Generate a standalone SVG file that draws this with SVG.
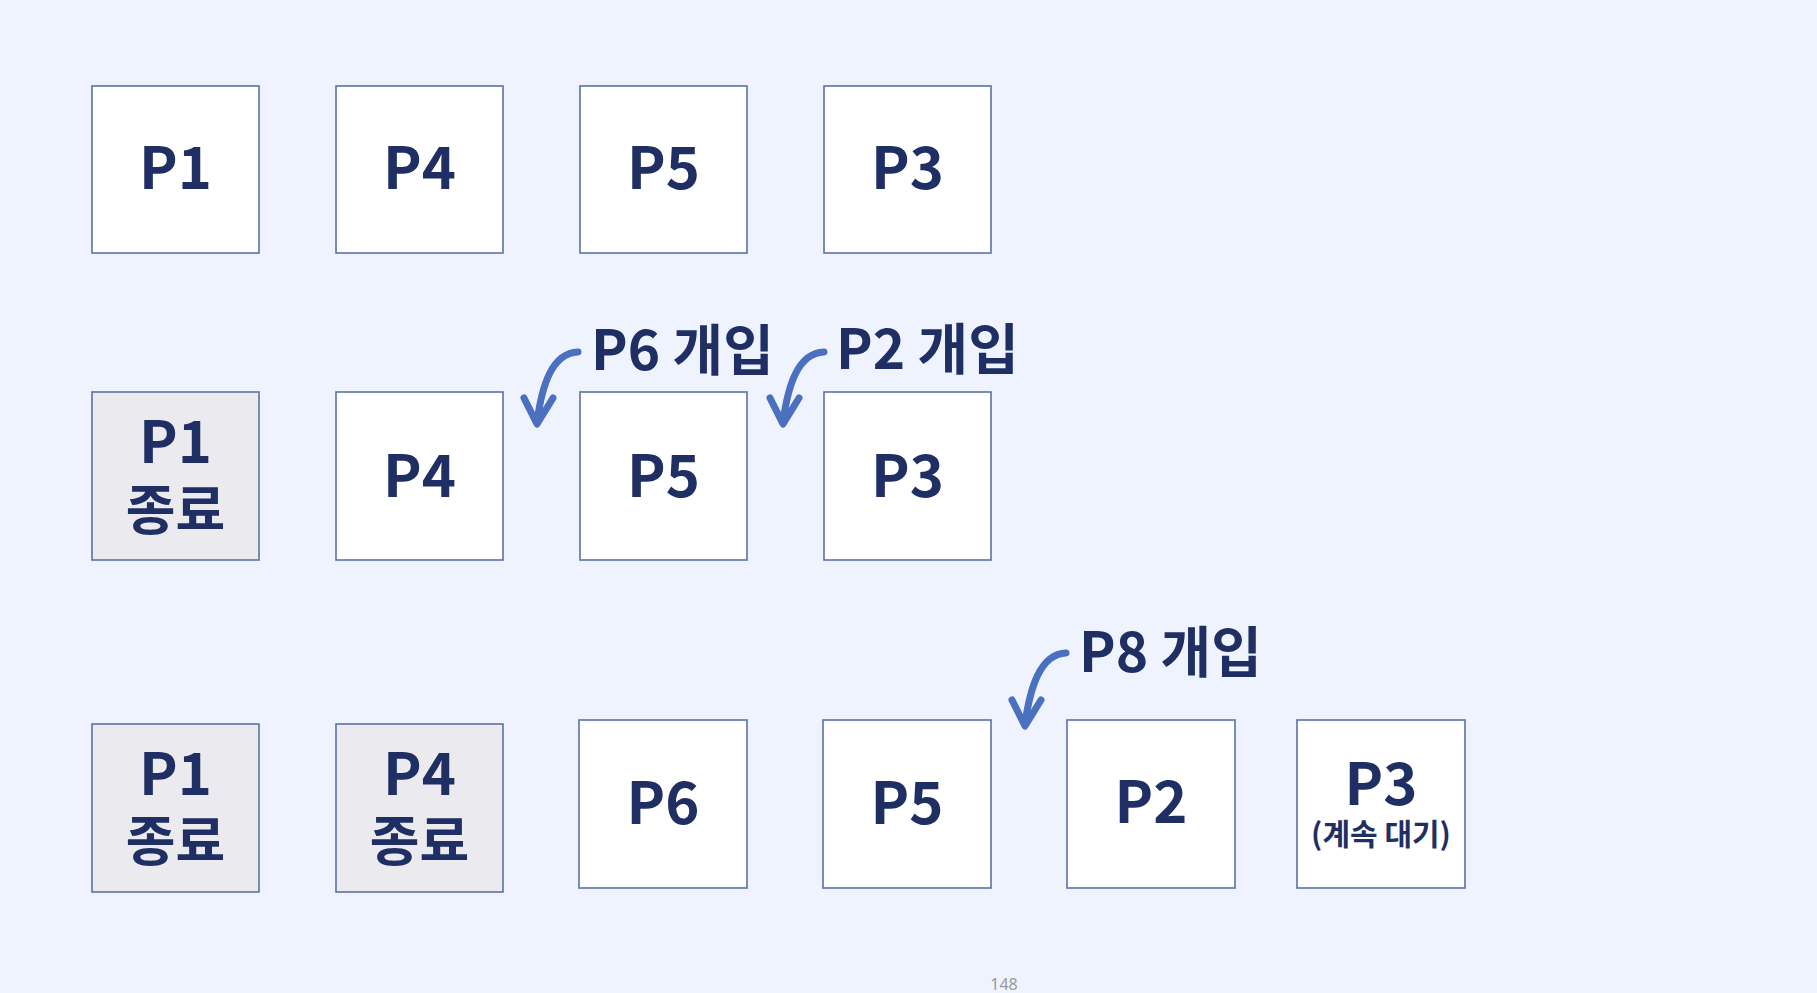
<svg xmlns="http://www.w3.org/2000/svg" width="1817" height="993" viewBox="0 0 1817 993">
<style>
.bg{fill:#eef3fe}
.box{fill:#ffffff;stroke:#5a72a6;stroke-width:1.6}
.done{fill:#ebebef;stroke:#5a72a6;stroke-width:1.6}
.t{font-family:"Noto Sans CJK KR","Noto Sans",sans-serif;font-weight:700;fill:#1f2f63;text-anchor:middle}
.big{font-size:58px}
.mid{font-size:54px}
.small{font-size:30px}
.lbl{font-family:"Noto Sans CJK KR","Noto Sans",sans-serif;font-weight:700;fill:#1f2f63;font-size:55px}
.arr{fill:none;stroke:#4b70c0;stroke-width:7;stroke-linecap:round;stroke-linejoin:round}
.pg{font-family:"Noto Sans","Liberation Sans",sans-serif;font-size:16px;fill:#9a9a9a;text-anchor:middle}
</style>
<rect class="bg" x="0" y="0" width="1817" height="993"/>

<g id="r1-p1"><rect class="box" x="92" y="86" width="167" height="167"/><text class="t big" x="175.5" y="189">P1</text></g>
<g id="r1-p4"><rect class="box" x="336" y="86" width="167" height="167"/><text class="t big" x="419.5" y="189">P4</text></g>
<g id="r1-p5"><rect class="box" x="580" y="86" width="167" height="167"/><text class="t big" x="663.5" y="189">P5</text></g>
<g id="r1-p3"><rect class="box" x="824" y="86" width="167" height="167"/><text class="t big" x="907.5" y="189">P3</text></g>

<g id="r2-p1"><rect class="done" x="92" y="392" width="167" height="168"/><text class="t big" x="175.5" y="463">P1</text><text class="t mid" x="175.5" y="530">종료</text></g>
<g id="r2-p4"><rect class="box" x="336" y="392" width="167" height="168"/><text class="t big" x="419.5" y="497">P4</text></g>
<g id="r2-p5"><rect class="box" x="580" y="392" width="167" height="168"/><text class="t big" x="663.5" y="497">P5</text></g>
<g id="r2-p3"><rect class="box" x="824" y="392" width="167" height="168"/><text class="t big" x="907.5" y="497">P3</text></g>

<g id="lbl-p6"><text class="lbl" x="591" y="370">P6 개입</text></g>
<g id="lbl-p2"><text class="lbl" x="836" y="369">P2 개입</text></g>
<g id="lbl-p8"><text class="lbl" x="1079" y="672">P8 개입</text></g>

<g id="r3-p1"><rect class="done" x="92" y="724" width="167" height="168"/><text class="t big" x="175.5" y="795">P1</text><text class="t mid" x="175.5" y="861">종료</text></g>
<g id="r3-p4"><rect class="done" x="336" y="724" width="167" height="168"/><text class="t big" x="419.5" y="795">P4</text><text class="t mid" x="419.5" y="861">종료</text></g>
<g id="r3-p6"><rect class="box" x="579" y="720" width="168" height="168"/><text class="t big" x="663" y="824">P6</text></g>
<g id="r3-p5"><rect class="box" x="823" y="720" width="168" height="168"/><text class="t big" x="907" y="824">P5</text></g>
<g id="r3-p2"><rect class="box" x="1067" y="720" width="168" height="168"/><text class="t big" x="1151" y="823">P2</text></g>
<g id="r3-p3"><rect class="box" x="1297" y="720" width="168" height="168"/><text class="t big" x="1381" y="805">P3</text><text class="t small" x="1381" y="845">(계속 대기)</text></g>

<g id="connectors">
<path class="arr" d="M578,352 C552,353 542,385 537,422"/>
<path class="arr" d="M524,398 L537,424 L553,398"/>
<path class="arr" d="M824,352 C798,353 788,385 783,422"/>
<path class="arr" d="M770,398 L783,424 L799,398"/>
<path class="arr" d="M1066,653 C1040,654 1030,688 1025,724"/>
<path class="arr" d="M1012,700 L1025,726 L1041,700"/>
</g>

<text class="pg" x="1004" y="990">148</text>
</svg>
